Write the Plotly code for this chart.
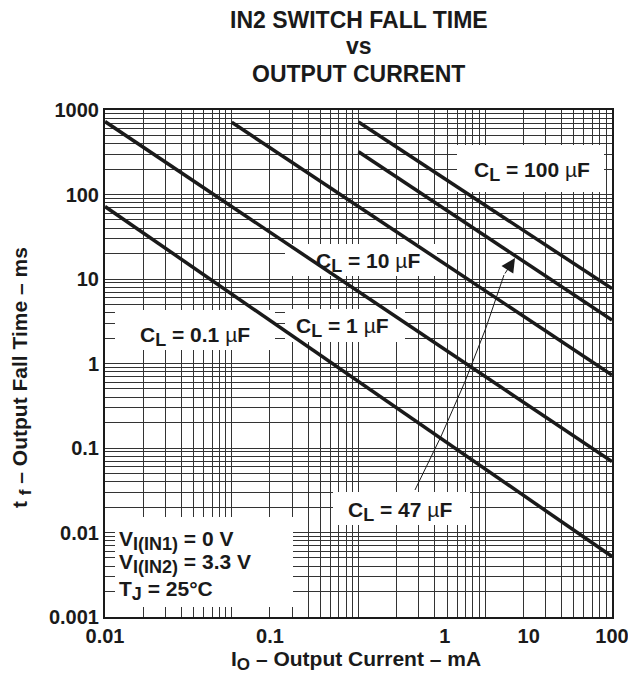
import plotly.graph_objects as go

# ---------------- data ----------------
series_names = ["0.1 µF", "1 µF", "10 µF", "47 µF", "100 µF"]
io_01 = [0.01, 100]
tf_01 = [72, 0.0052]
io_1 = [0.01, 100]
tf_1 = [730, 0.069]
io_10 = [0.1, 100]
tf_10 = [715, 0.73]
io_47 = [1, 100]
tf_47 = [320, 3.27]
io_100 = [1, 100]
tf_100 = [720, 7.7]

x_tick_vals = [0.01, 0.2, 4.8, 22, 100]
x_tick_text = ["0.01", "0.1", "1", "10", "100"]
y_tick_vals = [0.001, 0.01, 0.1, 1, 10, 100, 1000]
y_tick_text = ["0.001", "0.01", "0.1", "1", "10", "100", "1000"]

# ---------------- layout helpers ----------------
W, H = 628, 675
L, R, T, B = 105, 612, 110, 617
FONT = "Liberation Sans, Arial, Helvetica, sans-serif"
INK = "#1a1a1a"


def pxx(x):
    return (x - L) / (R - L)


def pxy(y):
    return (B - y) / (B - T)


def dx(px):  # pixel -> x data value on the log axis (for label backgrounds)
    return 10 ** (-2 + 4 * pxx(px))


def dy(py):
    return 10 ** (-3 + 6 * pxy(py))


fig = go.Figure()

# white label backgrounds (cover the grid, under the curves)
boxes = [(115, 275, 310, 350), (285, 405, 309, 342), (285, 437, 244, 276),
         (457, 604, 145, 192), (333, 470, 492, 525), (115, 293, 517, 607)]
for x0, x1, y0, y1 in boxes:
    fig.add_trace(go.Scatter(x=[dx(x0), dx(x1), dx(x1), dx(x0), dx(x0)],
                             y=[dy(y0), dy(y0), dy(y1), dy(y1), dy(y0)],
                             mode="lines", fill="toself", fillcolor="white",
                             line=dict(width=0, color="white"),
                             hoverinfo="skip", showlegend=False))

for xs, ys, nm in [(io_01, tf_01, series_names[0]), (io_1, tf_1, series_names[1]),
                   (io_10, tf_10, series_names[2]), (io_47, tf_47, series_names[3]),
                   (io_100, tf_100, series_names[4])]:
    fig.add_trace(go.Scatter(x=xs, y=ys, mode="lines", name=nm,
                             line=dict(color=INK, width=3.5), showlegend=False))

x_minor = [k * 10 ** d for d in range(-2, 2) for k in range(1, 10)][1:]
y_minor = [k * 10 ** d for d in range(-3, 3) for k in range(1, 10)][1:]

axis_common = dict(showline=True, linecolor=INK, linewidth=2, mirror=True,
                   showgrid=False, zeroline=False, ticks="",
                   ticklabeloverflow="allow", automargin=False,
                   tickfont=dict(family=FONT, size=20, color=INK, weight="bold"))

fig.update_xaxes(type="log", range=[-2, 2], tickmode="array",
                 tickvals=x_tick_vals, ticktext=x_tick_text,
                 minor=dict(tickmode="array", tickvals=x_minor, showgrid=True,
                            gridcolor="#333333", gridwidth=1, ticks=""),
                 **axis_common)
fig.update_yaxes(type="log", range=[-3, 3], tickmode="array",
                 tickvals=y_tick_vals, ticktext=y_tick_text,
                 minor=dict(tickmode="array", tickvals=y_minor, showgrid=True,
                            gridcolor="#333333", gridwidth=1, ticks=""),
                 **axis_common)

# curved arrow line
p0, c, p2 = (415, 490), (470, 382), (504, 275)
path = "M {:.4f},{:.4f} Q {:.4f},{:.4f} {:.4f},{:.4f}".format(
    pxx(p0[0]), pxy(p0[1]), pxx(c[0]), pxy(c[1]), pxx(p2[0]), pxy(p2[1]))
shapes = [dict(type="path", xref="paper", yref="paper", path=path,
               line=dict(color=INK, width=1), layer="above")]

mu = "<span style='font-weight:normal'>µ</span>"


def sub(t, size):
    return "<sub><span style='font-size:{}px'>{}</span></sub>".format(size, t)


def lab(v):
    return "<b>C" + sub("L", 18) + " = " + v + " " + mu + "F</b>"


annots = []
for txt, cx, cy in [(lab("0.1"), 195, 336), (lab("1"), 342, 327),
                    (lab("10"), 368, 262), (lab("100"), 532, 172),
                    (lab("47"), 400, 511)]:
    annots.append(dict(text=txt, x=pxx(cx), y=pxy(cy), xref="paper", yref="paper",
                       showarrow=False, xanchor="center", yanchor="middle",
                       font=dict(family=FONT, size=21, color=INK)))

for txt, cy in [("<b>V" + sub("I(IN1)", 18) + " = 0 V</b>", 540),
                ("<b>V" + sub("I(IN2)", 18) + " = 3.3 V</b>", 563),
                ("<b>T" + sub("J", 18) + " = 25°C</b>", 590)]:
    annots.append(dict(text=txt, x=pxx(117), y=pxy(cy), xref="paper", yref="paper",
                       showarrow=False, xanchor="left", yanchor="middle", align="left",
                       font=dict(family=FONT, size=21, color=INK)))

# arrow head
annots.append(dict(text="", x=pxx(515), y=pxy(258), xref="paper", yref="paper",
                   showarrow=True, ax=-11, ay=17, arrowhead=2, arrowsize=2.8,
                   arrowwidth=1, arrowcolor=INK))

# title (three lines)
for txt, cy in [("<b>IN2 SWITCH FALL TIME</b>", 20), ("<b>vs</b>", 46),
                ("<b>OUTPUT CURRENT</b>", 74)]:
    annots.append(dict(text=txt, x=pxx(358.5), y=pxy(cy), xref="paper", yref="paper",
                       showarrow=False, xanchor="center", yanchor="middle",
                       font=dict(family=FONT, size=23, color=INK)))
# axis titles
annots.append(dict(text="<b>I" + sub("O", 17) + " – Output Current – mA</b>",
                   x=pxx(356), y=pxy(660), xref="paper", yref="paper",
                   showarrow=False, xanchor="center", yanchor="middle",
                   font=dict(family=FONT, size=21, color=INK)))
annots.append(dict(text="<b>t " + sub("f", 17) + " – Output Fall Time – ms</b>",
                   x=pxx(21), y=pxy(378), xref="paper", yref="paper",
                   showarrow=False, xanchor="center", yanchor="middle",
                   textangle=-90,
                   font=dict(family=FONT, size=21, color=INK)))

fig.update_layout(width=W, height=H,
                  margin=dict(l=L, r=W - R, t=T, b=H - B, autoexpand=False),
                  paper_bgcolor="white", plot_bgcolor="white",
                  shapes=shapes, annotations=annots, showlegend=False,
                  font=dict(family=FONT, color=INK))

fig.write_html("out.html")
